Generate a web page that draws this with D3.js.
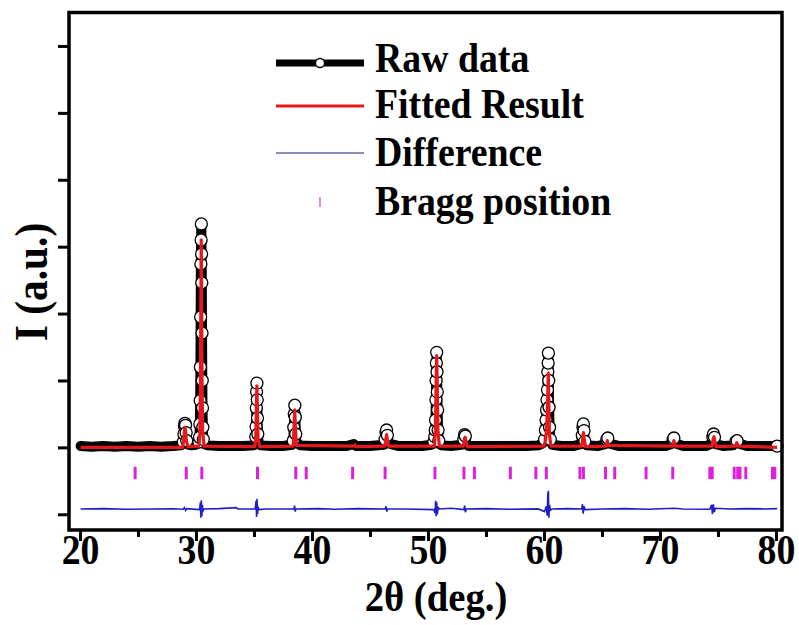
<!DOCTYPE html>
<html><head><meta charset="utf-8">
<script src="https://cdn.jsdelivr.net/npm/d3@7"></script>
<style>body{margin:0;background:#fff}svg{display:block}text{font-family:"Liberation Serif","Times New Roman",serif;font-weight:bold}</style>
</head><body><svg id="c" width="799" height="625"></svg>
<script>
// ---- data (2θ in degrees, intensity in arbitrary units) ----
const rawData = [[20.05,0.02],[21,0.01],[22,0.02],[23,0.01],[24,0.02],[25,0.01],[26,0.02],[27,0.01],[28,0.02],[28.7,0.03],
[28.9,0.08],[28.96,0.2],[29.0,0.32],[29.05,0.36],[29.1,0.33],[29.15,0.22],[29.2,0.1],[29.3,0.04],[29.6,0.03],[30.0,0.04],[30.25,0.08],
[30.3,0.15],[30.33,0.35],[30.36,0.7],[30.38,1.2],[30.4,1.95],[30.42,2.74],[30.44,3.1],[30.46,3.34],[30.48,2.89],[30.5,2.46],[30.52,1.71],[30.54,1.0],[30.56,0.59],[30.59,0.3],[30.63,0.12],[30.7,0.05],[31,0.03],[32,0.02],[33,0.02],[34,0.02],[35,0.03],
[35.1,0.06],[35.15,0.16],[35.18,0.31],[35.2,0.59],[35.22,0.83],[35.25,0.96],[35.28,0.71],[35.3,0.44],[35.33,0.2],[35.4,0.07],[35.6,0.03],[36.5,0.02],[37.5,0.02],[38.3,0.04],
[38.38,0.1],[38.43,0.3],[38.47,0.5],[38.52,0.63],[38.56,0.45],[38.6,0.2],[38.66,0.07],[39,0.03],[40,0.02],[41,0.02],[42,0.02],[43,0.02],[43.6,0.05],[43.8,0.02],[45,0.02],[46.2,0.04],
[46.3,0.12],[46.38,0.23],[46.43,0.26],[46.5,0.18],[46.58,0.06],[47.5,0.02],[48.5,0.02],[49.5,0.02],[50.3,0.04],
[50.5,0.08],[50.58,0.16],[50.62,0.26],[50.65,0.41],[50.68,0.71],[50.7,1.0],[50.72,1.26],[50.75,1.42],[50.78,1.13],[50.8,0.83],[50.83,0.56],[50.87,0.26],[50.93,0.1],[51.1,0.03],[52,0.02],[52.9,0.04],
[53.08,0.12],[53.15,0.19],[53.22,0.17],[53.3,0.07],[53.5,0.02],[54.5,0.02],[55.5,0.02],[56.5,0.02],[57.5,0.02],[58.5,0.02],[59.5,0.03],[59.9,0.06],
[60.05,0.12],[60.12,0.26],[60.18,0.41],[60.22,0.56],[60.26,0.71],[60.3,0.86],[60.33,1.13],[60.36,1.26],[60.38,1.41],[60.41,1.0],[60.44,0.6],[60.48,0.3],[60.55,0.12],[60.7,0.04],[61.5,0.02],[62.5,0.02],[63.2,0.05],
[63.3,0.18],[63.36,0.3],[63.4,0.35],[63.45,0.25],[63.52,0.09],[63.7,0.03],[64.6,0.02],[65.3,0.05],
[65.42,0.12],[65.5,0.14],[65.6,0.06],[66.5,0.02],[67.5,0.02],[68.5,0.02],[69.5,0.02],[70.5,0.02],[71.0,0.05],
[71.13,0.12],[71.2,0.14],[71.3,0.06],[72,0.02],[73,0.02],[74,0.02],[74.4,0.05],
[74.55,0.16],[74.62,0.2],[74.7,0.15],[74.8,0.05],[75.5,0.02],[76.3,0.03],
[76.55,0.09],[76.65,0.1],[76.75,0.06],[77.5,0.02],[78.5,0.02],[79.5,0.02],[80.1,0.02]];

const fittedData = [[20.05,0],[28.85,0],[28.95,0.12],[29.0,0.24],[29.05,0.3],[29.1,0.24],[29.17,0.1],[29.3,0.01],[30.25,0.02],[30.33,0.2],[30.38,0.9],[30.42,2.2],[30.45,3.1],[30.48,2.4],[30.52,1.0],[30.57,0.25],[30.7,0.02],
[35.08,0.01],[35.16,0.2],[35.21,0.65],[35.25,0.92],[35.29,0.6],[35.35,0.12],[35.5,0.01],[38.38,0.02],[38.45,0.3],[38.51,0.56],[38.57,0.3],[38.66,0.03],[43.6,0.02],[43.7,0.04],[43.8,0.01],
[46.28,0.02],[46.37,0.13],[46.43,0.19],[46.5,0.11],[46.6,0.02],[50.55,0.02],[50.64,0.25],[50.7,0.95],[50.75,1.37],[50.8,0.9],[50.86,0.25],[50.98,0.02],[53.05,0.02],[53.14,0.12],[53.2,0.15],[53.27,0.09],[53.38,0.01],
[60.0,0.02],[60.15,0.12],[60.25,0.35],[60.33,0.8],[60.37,1.11],[60.41,0.7],[60.47,0.2],[60.6,0.02],[63.25,0.02],[63.34,0.14],[63.4,0.22],[63.47,0.12],[63.58,0.01],[65.38,0.02],[65.46,0.1],[65.55,0.03],
[71.1,0.02],[71.2,0.1],[71.3,0.02],[74.5,0.02],[74.6,0.14],[74.66,0.16],[74.74,0.08],[74.85,0.01],[76.5,0.02],[76.62,0.07],[76.75,0.02],[80.1,0]];

const differenceData = [[20.05,-0.92],[22,-0.915],[24,-0.925],[26,-0.92],[28,-0.918],[28.9,-0.925],[29.0,-0.9],[29.1,-0.94],[29.2,-0.915],[30.3,-0.93],[30.38,-0.82],[30.42,-1.05],[30.46,-0.79],[30.5,-1.03],[30.55,-0.86],[30.6,-0.95],[30.7,-0.92],
[32,-0.915],[33.5,-0.9],[33.6,-0.92],[35.1,-0.92],[35.18,-0.8],[35.22,-1.04],[35.26,-0.77],[35.3,-1.0],[35.36,-0.9],[35.45,-0.93],[36,-0.92],[38.45,-0.92],[38.5,-0.87],[38.55,-0.96],[38.62,-0.92],
[40.5,-0.915],[42,-0.925],[44,-0.915],[46.3,-0.92],[46.38,-0.88],[46.45,-0.96],[46.52,-0.92],[48,-0.92],[50.5,-0.93],[50.6,-0.98],[50.66,-0.8],[50.7,-1.03],[50.75,-0.82],[50.8,-1.0],[50.88,-0.9],[51,-0.92],
[52,-0.91],[53.1,-0.93],[53.16,-0.87],[53.22,-0.97],[53.3,-0.92],[55,-0.915],[57,-0.925],[59.5,-0.92],[60.05,-0.96],[60.2,-0.88],[60.28,-1.02],[60.33,-0.7],[60.38,-0.65],[60.42,-1.05],[60.48,-0.86],[60.55,-0.94],[60.7,-0.92],
[62,-0.915],[63.25,-0.92],[63.32,-0.85],[63.38,-0.99],[63.45,-0.88],[63.55,-0.93],[65,-0.92],[67,-0.915],[69,-0.925],[71.2,-0.91],[72,-0.92],[74.3,-0.925],[74.45,-0.86],[74.52,-1.0],[74.6,-0.85],[74.68,-0.97],[74.78,-0.91],
[76,-0.92],[77.5,-0.915],[79,-0.92],[80.1,-0.915]];

const braggPositions = [24.75,29.16,30.5,35.3,38.6,39.5,43.5,46.3,50.6,53.1,54.0,57.1,59.3,60.2,63.1,63.4,65.3,66.1,68.8,71.1,74.3,74.5,76.4,76.7,76.9,77.4,79.7,79.9];

const xTicks = [20,30,40,50,60,70,80];
const xMinorTicks = [25,35,45,55,65,75];
const yTicks = [-1,0,1,2,3,4,5,6];
const legendLabels = ["Raw data","Fitted Result","Difference","Bragg position"];
const xTitle = "2θ (deg.)";
const yTitle = "I (a.u.)";

// ---- drawing ----
const svg = d3.select("#c");
const L=69,R=782,T=12.5,B=530;
const SX=0.9; // horizontally condensed lettering
const x = d3.scaleLinear().domain([19.05,80.52]).range([L,R]);
const y = d3.scaleLinear().domain([-1.235,6.5]).range([B,T]);

const line = d3.line().x(d=>x(d[0])).y(d=>y(d[1]));

// bragg ticks
svg.append("g").selectAll("line").data(braggPositions).join("line")
  .attr("x1",d=>x(d)).attr("x2",d=>x(d))
  .attr("y1",y(-0.29)).attr("y2",y(-0.475))
  .attr("stroke","#e01fdc").attr("stroke-width",3);

// difference
svg.append("path").datum(differenceData).attr("d",line)
  .attr("fill","none").attr("stroke","#1f1fc4").attr("stroke-width",1.6);

// raw line
svg.append("path").datum(rawData).attr("d",line)
  .attr("fill","none").attr("stroke","#000").attr("stroke-width",10).attr("stroke-linejoin","round").attr("stroke-linecap","round");
// raw symbols
svg.append("g").selectAll("circle")
  .data(rawData.filter((d,i)=>d[1]>=0.08||i===rawData.length-1))
  .join("circle").attr("cx",d=>x(d[0])).attr("cy",d=>y(d[1])).attr("r",6)
  .attr("fill","#fff").attr("stroke","#000").attr("stroke-width",1.3);

// fitted
svg.append("path").datum(fittedData).attr("d",line)
  .attr("fill","none").attr("stroke","#e3191c").attr("stroke-width",3.2).attr("stroke-linejoin","round");

// frame
svg.append("rect").attr("x",L).attr("y",T).attr("width",R-L).attr("height",B-T)
  .attr("fill","none").attr("stroke","#000").attr("stroke-width",3.5);

// x axis
const xAxis = d3.axisBottom(x).tickValues(xTicks).tickSize(11).tickPadding(6).tickFormat(d3.format("d"));
const gx = svg.append("g").attr("transform",`translate(0,${B})`).call(xAxis);
gx.select(".domain").remove();
gx.selectAll(".tick line").attr("stroke","#000").attr("stroke-width",3);
gx.selectAll(".tick text").attr("fill","#000").attr("font-size",42).attr("font-family","Liberation Serif").attr("font-weight","bold")
  .attr("y",34).attr("dy",0).attr("transform",`scale(${SX},1)`);
const gxm = svg.append("g").attr("transform",`translate(0,${B})`).call(d3.axisBottom(x).tickValues(xMinorTicks).tickSize(7).tickFormat(""));
gxm.select(".domain").remove();
gxm.selectAll(".tick line").attr("stroke","#000").attr("stroke-width",3);

// y axis (ticks only)
const gy = svg.append("g").attr("transform",`translate(${L},0)`).call(d3.axisLeft(y).tickValues(yTicks).tickSize(11).tickFormat(""));
gy.select(".domain").remove();
gy.selectAll(".tick line").attr("stroke","#000").attr("stroke-width",3);

// titles
svg.append("g").attr("transform","translate(436,611)").append("text").attr("transform",`scale(${SX},1)`)
  .attr("text-anchor","middle").attr("font-size",43).text(xTitle);
svg.append("g").attr("transform","translate(47,282) rotate(-90)").append("text").attr("transform",`scale(${SX},1)`)
  .attr("text-anchor","middle").attr("font-size",46).text(yTitle);

// legend
const lg = svg.append("g");
const lx1=276,lx2=364,tx=375;
const rows=[63,106,153,202];
lg.append("line").attr("x1",lx1).attr("x2",lx2).attr("y1",rows[0]).attr("y2",rows[0]).attr("stroke","#000").attr("stroke-width",7);
lg.append("circle").attr("cx",(lx1+lx2)/2).attr("cy",rows[0]).attr("r",4.5).attr("fill","#fff").attr("stroke","#000").attr("stroke-width",1.3);
lg.append("line").attr("x1",lx1).attr("x2",lx2).attr("y1",rows[1]).attr("y2",rows[1]).attr("stroke","#e3191c").attr("stroke-width",3);
lg.append("line").attr("x1",lx1).attr("x2",lx2).attr("y1",rows[2]).attr("y2",rows[2]).attr("stroke","#6666aa").attr("stroke-width",1.6);
lg.append("line").attr("x1",(lx1+lx2)/2).attr("x2",(lx1+lx2)/2).attr("y1",rows[3]-5).attr("y2",rows[3]+5).attr("stroke","#c27ad0").attr("stroke-width",1.6);
const baselines=[72,118,166,215];
lg.selectAll("g.l").data(legendLabels).join("g").attr("class","l")
  .attr("transform",(d,i)=>`translate(${tx},${baselines[i]})`)
  .append("text").attr("transform",`scale(${SX},1)`).attr("font-size",42).text(d=>d);
</script></body></html>
